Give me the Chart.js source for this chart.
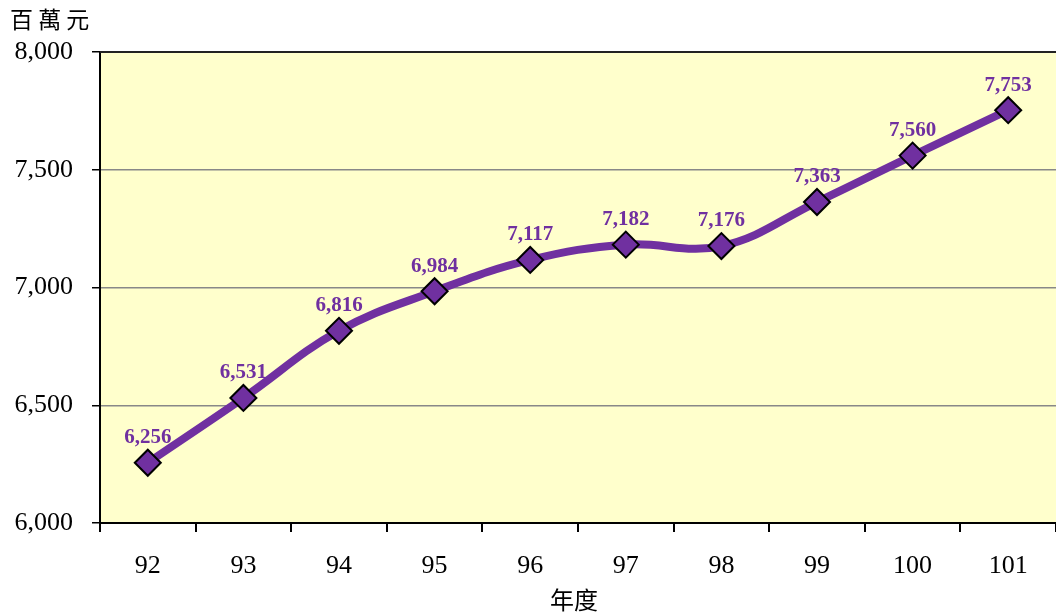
<!DOCTYPE html>
<html>
<head>
<meta charset="utf-8">
<script src="https://cdn.jsdelivr.net/npm/chart.js@4/dist/chart.umd.min.js"></script>
<style>
    html, body { margin: 0; padding: 0; background: #fff; }
    #wrap { width: 1056px; height: 616px; position: relative; }
</style>
</head>
<body>
<div id="wrap"><canvas id="line-chart"></canvas></div>
<script>
// Chart data
const years = ['92', '93', '94', '95', '96', '97', '98', '99', '100', '101'];
const amounts = [6256, 6531, 6816, 6984, 7117, 7182, 7176, 7363, 7560, 7753];
const yTicks = [6000, 6500, 7000, 7500, 8000];
const yUnit = '百萬元';
const xTitle = '年度';

const purple = '#7030A0';
const serif = '"Liberation Serif", "Times New Roman", serif';

// Fills plot background, draws borders, titles and value labels
const decorPlugin = {
    id: 'decor',
    beforeDraw(chart) {
        const a = chart.chartArea;
        const ctx = chart.ctx;
        ctx.save();
        ctx.fillStyle = '#FFFFCC';
        ctx.fillRect(a.left, a.top, a.right - a.left, a.bottom - a.top);
        ctx.restore();
    },
    afterDatasetsDraw(chart) {
        const ctx = chart.ctx;
        const meta = chart.getDatasetMeta(0);
        ctx.save();
        ctx.fillStyle = purple;
        ctx.font = 'bold 21px ' + serif;
        ctx.textAlign = 'center';
        ctx.textBaseline = 'middle';
        meta.data.forEach(function(pt, i) {
            ctx.fillText(amounts[i].toLocaleString('en-US'), pt.x, pt.y - 25);
        });
        ctx.restore();
    },
    afterDraw(chart) {
        const a = chart.chartArea;
        const ctx = chart.ctx;
        ctx.save();
        ctx.strokeStyle = '#000';
        ctx.lineWidth = 2;
        ctx.beginPath();
        ctx.moveTo(a.left, a.top);
        ctx.lineTo(a.left, a.bottom);
        ctx.lineTo(a.right, a.bottom);
        ctx.stroke();
        ctx.strokeStyle = '#222';
        ctx.beginPath();
        ctx.moveTo(a.left, a.top);
        ctx.lineTo(a.right, a.top);
        ctx.stroke();

        ctx.fillStyle = '#000';
        ctx.font = '23px "Noto Sans CJK TC", sans-serif';
        ctx.textBaseline = 'middle';
        ctx.textAlign = 'left';
        ctx.fillText(yUnit.split('').join(' '), 10, 19);
        ctx.font = '24px "Noto Sans CJK TC", sans-serif';
        ctx.textAlign = 'center';
        ctx.fillText(xTitle, (a.left + a.right) / 2 - 4, 600);
        ctx.restore();
    }
};

document.addEventListener('DOMContentLoaded', function() {
    const ctx = document.getElementById('line-chart');

    new Chart(ctx, {
        type: 'line',
        data: {
            labels: years,
            datasets: [{
                data: amounts,
                borderColor: purple,
                borderWidth: 8,
                tension: 0.4,
                fill: false,
                pointStyle: 'rectRot',
                pointRadius: 13,
                pointBackgroundColor: purple,
                pointBorderColor: '#000',
                pointBorderWidth: 2
            }]
        },
        options: {
            responsive: true,
            maintainAspectRatio: false,
            animation: false,
            layout: { autoPadding: false, padding: { top: 52, right: 0, left: 0, bottom: 0 } },
            plugins: {
                legend: { display: false },
                tooltip: { enabled: false }
            },
            scales: {
                x: {
                    offset: true,
                    grid: {
                        offset: true,
                        drawOnChartArea: false,
                        drawTicks: true,
                        tickLength: 9,
                        color: '#000',
                        lineWidth: 2
                    },
                    border: { display: false },
                    ticks: {
                        color: '#000',
                        padding: 19,
                        font: { family: serif, size: 26 }
                    },
                    afterFit(scale) { scale.height = 93; }
                },
                y: {
                    min: 6000,
                    max: 8000,
                    afterBuildTicks(scale) {
                        scale.ticks = yTicks.map(v => ({ value: v }));
                    },
                    grid: {
                        color: '#888',
                        lineWidth: 1.5,
                        tickColor: '#000',
                        tickLength: 8
                    },
                    border: { display: false },
                    ticks: {
                        color: '#000',
                        padding: 19,
                        font: { family: serif, size: 26 },
                        callback: function(value) {
                            return value.toLocaleString('en-US');
                        }
                    },
                    afterFit(scale) { scale.width = 100; }
                }
            }
        },
        plugins: [decorPlugin]
    });
});
</script>
</body>
</html>
